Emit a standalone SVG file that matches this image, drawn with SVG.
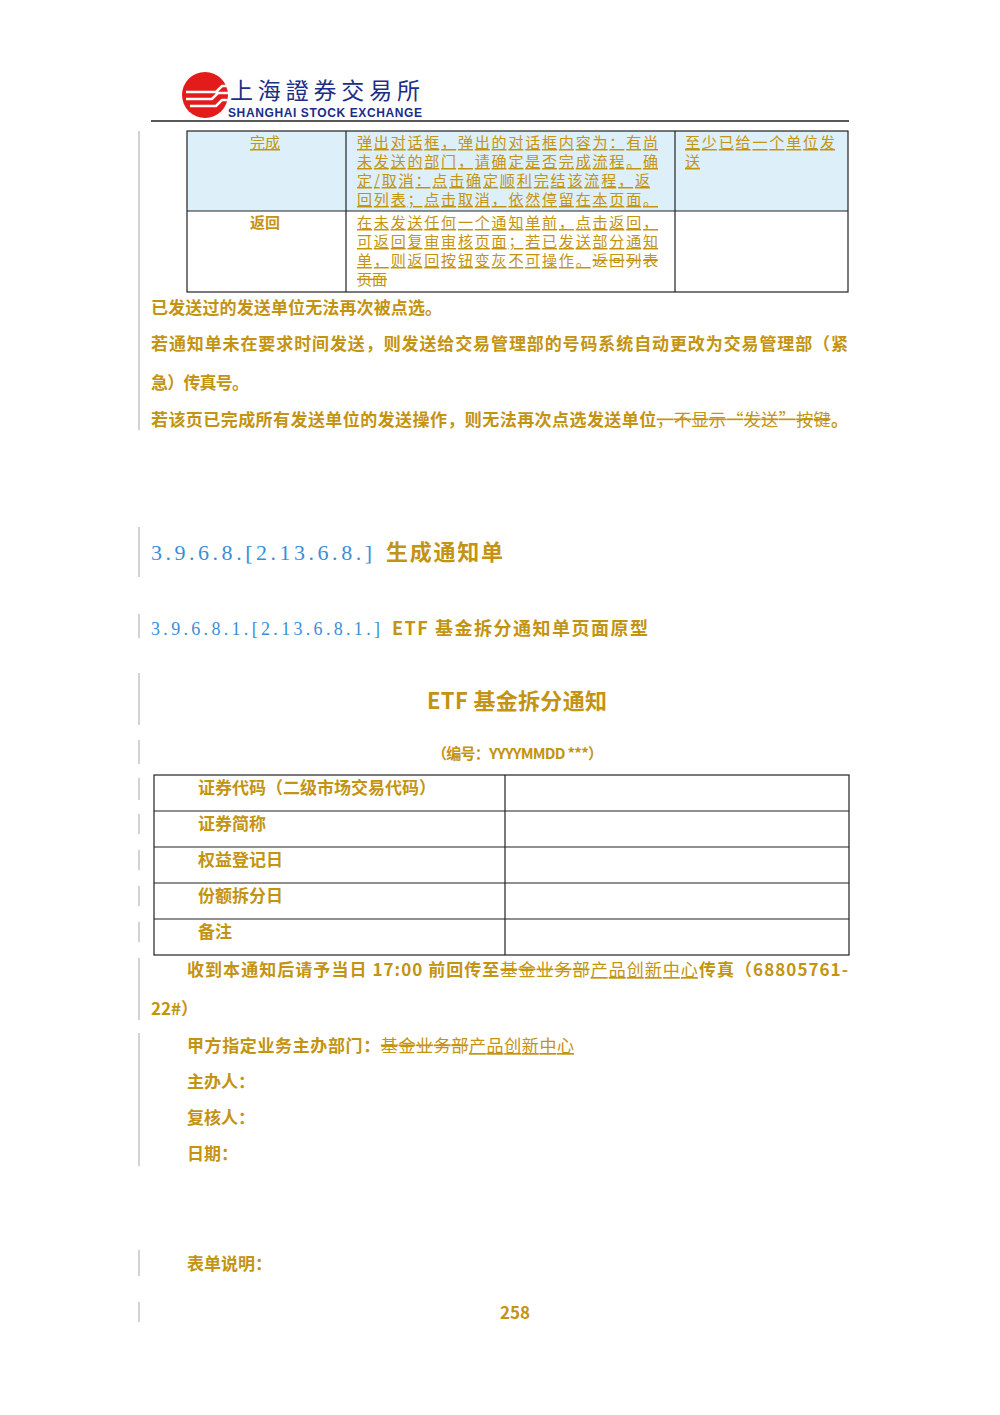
<svg xmlns="http://www.w3.org/2000/svg" width="1000" height="1415" viewBox="0 0 1000 1415">
<style>
.g{fill:#C39312;font-family:"Noto Sans CJK SC","Liberation Serif",serif}
.b{font-weight:bold}
.s15{font-size:15px}.s16{font-size:17px}
.u{text-decoration:underline}
.x{text-decoration:line-through}
.bl{fill:#3B8ED6;font-family:"Liberation Serif","Noto Sans CJK SC",serif}
.bar{stroke:#bbb;stroke-width:1.3}
.tb{fill:none;stroke:#222;stroke-width:1.2}
</style>
<rect width="1000" height="1415" fill="#fff"/>
<g id="logo">
<circle cx="205" cy="95" r="23" fill="#E31B1B"/>
<path d="M186 92h30l6-6h6M186 99h26l6-6h10M190 106h26l6-6h6" stroke="#fff" stroke-width="2.5" fill="none"/>
<text x="230" y="99" font-family="Noto Sans CJK SC,serif" font-size="23" fill="#1B2D86" textLength="190">上海證券交易所</text>
<text x="228" y="117" font-family="Liberation Sans,sans-serif" font-size="12" font-weight="bold" fill="#1B2D86" textLength="194">SHANGHAI  STOCK  EXCHANGE</text>
</g>
<line x1="151" y1="121" x2="849" y2="121" stroke="#222" stroke-width="1.5"/>
<g id="bars">
<line class="bar" x1="139" y1="131" x2="139" y2="430"/>
<line class="bar" x1="139" y1="527" x2="139" y2="577"/>
<line class="bar" x1="139" y1="614" x2="139" y2="638"/>
<line class="bar" x1="139" y1="673" x2="139" y2="725"/>
<line class="bar" x1="139" y1="740" x2="139" y2="764"/>
<line class="bar" x1="139" y1="778" x2="139" y2="800"/>
<line class="bar" x1="139" y1="814" x2="139" y2="834"/>
<line class="bar" x1="139" y1="850" x2="139" y2="870"/>
<line class="bar" x1="139" y1="886" x2="139" y2="906"/>
<line class="bar" x1="139" y1="922" x2="139" y2="942"/>
<line class="bar" x1="139" y1="958" x2="139" y2="1020"/>
<line class="bar" x1="139" y1="1033" x2="139" y2="1166"/>
<line class="bar" x1="139" y1="1250" x2="139" y2="1276"/>
<line class="bar" x1="139" y1="1302" x2="139" y2="1322"/>
</g>
<g id="table1">
<rect x="187" y="131" width="661" height="80" fill="#DDEFF8"/>
<rect class="tb" x="187" y="131" width="661" height="161"/>
<line class="tb" x1="187" y1="211" x2="848" y2="211"/>
<line class="tb" x1="346" y1="131" x2="346" y2="292"/>
<line class="tb" x1="675" y1="131" x2="675" y2="292"/>
<text class="g s15 u" x="250" y="148">完成</text>
<text class="g s15 u" x="357" y="148" textLength="301">弹出对话框，弹出的对话框内容为：有尚</text>
<text class="g s15 u" x="357" y="167" textLength="301">未发送的部门，请确定是否完成流程。确</text>
<text class="g s15 u" x="357" y="186" textLength="293">定/取消：点击确定顺利完结该流程，返</text>
<text class="g s15 u" x="357" y="205" textLength="301">回列表；点击取消，依然停留在本页面。</text>
<text class="g s15 u" x="685" y="148" textLength="150">至少已给一个单位发</text>
<text class="g s15 u" x="685" y="167">送</text>
<text class="g s15 b" x="250" y="228">返回</text>
<text class="g s15 u" x="357" y="228" textLength="301">在未发送任何一个通知单前，点击返回，</text>
<text class="g s15 u" x="357" y="247" textLength="301">可返回复审审核页面；若已发送部分通知</text>
<text class="g s15" x="357" y="266" textLength="301"><tspan class="u">单，则返回按钮变灰不可操作。</tspan><tspan class="x">返回列表</tspan></text>
<text class="g s15 x" x="357" y="285">页面</text>
</g>
<g id="para1">
<text class="g s16 b" x="151" y="314" textLength="291">已发送过的发送单位无法再次被点选。</text>
<text class="g s16 b" x="151" y="350" textLength="697">若通知单未在要求时间发送，则发送给交易管理部的号码系统自动更改为交易管理部（紧</text>
<text class="g s16 b" x="151" y="389" textLength="98">急）传真号。</text>
<text class="g s16" x="151" y="426" textLength="697"><tspan class="b">若该页已完成所有发送单位的发送操作，则无法再次点选发送单位</tspan><tspan class="x">，不显示“发送”按键</tspan><tspan class="b">。</tspan></text>
</g>
<g id="heading">
<text class="bl" x="151" y="560" font-size="22" textLength="221">3.9.6.8.[2.13.6.8.]</text>
<text class="g" x="386" y="560" font-size="22" font-weight="bold" textLength="117">生成通知单</text>
<text class="bl" x="151" y="635" font-size="18" textLength="229">3.9.6.8.1.[2.13.6.8.1.]</text>
<text class="g b" x="392" y="635" font-size="18" textLength="256">ETF 基金拆分通知单页面原型</text>
</g>
<g id="form">
<text class="g b" x="427" y="709" font-size="22" textLength="180">ETF 基金拆分通知</text>
<text class="g b" x="432" y="759" font-size="15" textLength="171">（编号：YYYYMMDD ***）</text>
<rect class="tb" x="154" y="775" width="695" height="180"/>
<line class="tb" x1="154" y1="811" x2="849" y2="811"/>
<line class="tb" x1="154" y1="847" x2="849" y2="847"/>
<line class="tb" x1="154" y1="883" x2="849" y2="883"/>
<line class="tb" x1="154" y1="919" x2="849" y2="919"/>
<line class="tb" x1="505" y1="775" x2="505" y2="955"/>
<text class="g s16 b" x="198" y="794">证券代码（二级市场交易代码）</text>
<text class="g s16 b" x="198" y="830">证券简称</text>
<text class="g s16 b" x="198" y="866">权益登记日</text>
<text class="g s16 b" x="198" y="902">份额拆分日</text>
<text class="g s16 b" x="198" y="938">备注</text>
<text class="g s16" x="187" y="976" textLength="661"><tspan class="b">收到本通知后请予当日 17:00 前回传至</tspan><tspan class="x">基金业务部</tspan><tspan class="u">产品创新中心</tspan><tspan class="b">传真（68805761-</tspan></text>
<text class="g s16 b" x="151" y="1015">22#）</text>
<text class="g s16" x="187" y="1052" textLength="387"><tspan class="b">甲方指定业务主办部门：</tspan><tspan class="x">基金业务部</tspan><tspan class="u">产品创新中心</tspan></text>
<text class="g s16 b" x="187" y="1088">主办人：</text>
<text class="g s16 b" x="187" y="1124">复核人：</text>
<text class="g s16 b" x="187" y="1160">日期：</text>
<text class="g s16 b" x="187" y="1270">表单说明：</text>
<text class="g s16 b" x="515" y="1319" text-anchor="middle">258</text>
</g>
</svg>
